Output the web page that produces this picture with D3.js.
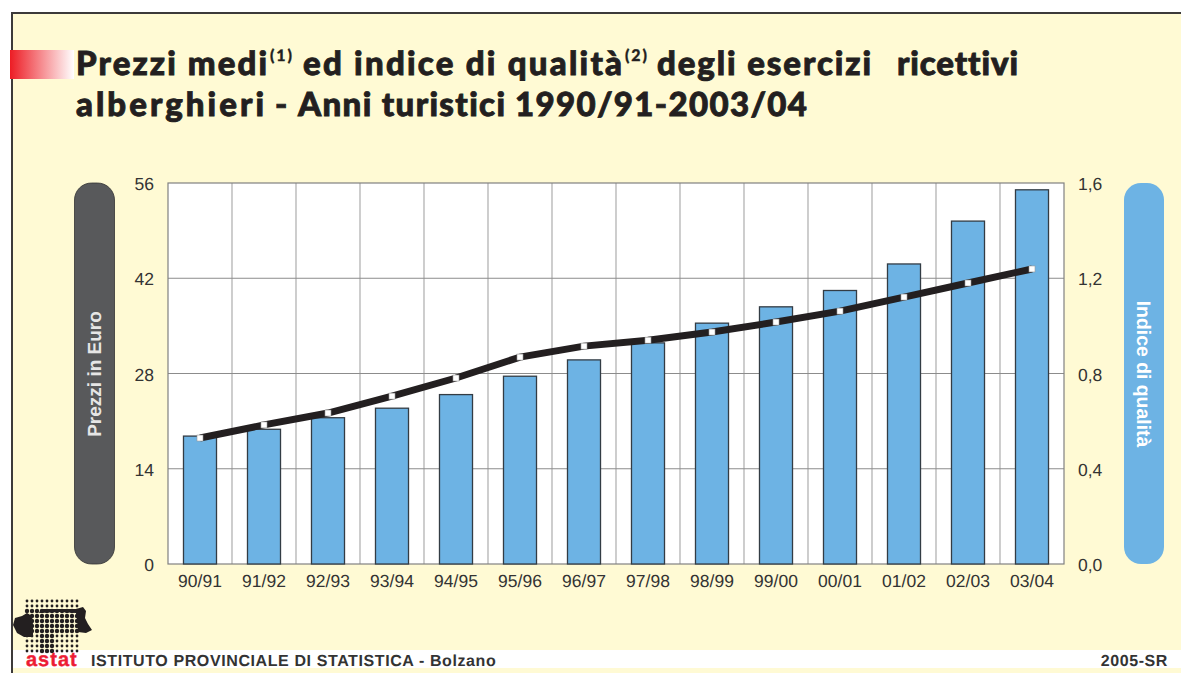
<!DOCTYPE html>
<html>
<head>
<meta charset="utf-8">
<script src="https://cdnjs.cloudflare.com/ajax/libs/d3/7.8.5/d3.min.js"></script>
<style>
  html, body { margin: 0; padding: 0; background: #fff; overflow: hidden; }
  svg { display: block; font-family: "Liberation Sans", Arial, sans-serif; text-rendering: geometricPrecision; }
</style>
</head>
<body>
<script>
const categories = ["90/91","91/92","92/93","93/94","94/95","95/96","96/97","97/98","98/99","99/00","00/01","01/02","02/03","03/04"];
const prezzi = [18.8,19.8,21.5,22.9,24.9,27.6,30.0,32.5,35.4,37.8,40.2,44.1,50.4,55.0];
const indice = [0.529,0.584,0.634,0.705,0.781,0.869,0.915,0.94,0.974,1.016,1.062,1.121,1.18,1.239];
const leftTicks = [0,14,28,42,56];
const rightTicks = [0,0.4,0.8,1.2,1.6];

const width = 1181, height = 673;
const plot = { left: 168, right: 1064, top: 183, bottom: 564 };

const svg = d3.select("body").append("svg")
    .attr("width", width)
    .attr("height", height);

const defs = svg.append("defs");
const grad = defs.append("linearGradient").attr("id", "redFade");
grad.append("stop").attr("offset", "0").attr("stop-color", "#ed1c24");
grad.append("stop").attr("offset", "1").attr("stop-color", "#ffffff");

// Background panel
svg.append("rect")
    .attr("x", 12).attr("y", 13)
    .attr("width", width).attr("height", height)
    .attr("fill", "#fffad4")
    .attr("stroke", "#3c3a3a")
    .attr("stroke-width", 2);

// White footer band
svg.append("rect")
    .attr("x", 13).attr("y", 650)
    .attr("width", width).attr("height", 18)
    .attr("fill", "#fff");

// Title
svg.append("rect")
    .attr("x", 10).attr("y", 50)
    .attr("width", 64).attr("height", 29)
    .attr("fill", "url(#redFade)");

const title = svg.append("g")
    .attr("font-family", "Lato, sans-serif")
    .attr("font-weight", 900)
    .attr("font-size", 33)
    .attr("fill", "#231f20")
    .attr("stroke", "#231f20")
    .attr("stroke-width", 0.9)
    .style("font-variant-ligatures", "none");

// each piece stretched to the span it has in the original
function titlePiece(str, x0, x1, y, size) {
    title.append("text")
        .attr("x", x0).attr("y", y)
        .attr("textLength", x1 - x0).attr("lengthAdjust", "spacing")
        .attr("font-size", size || null)
        .attr("stroke-width", size ? 0.3 : null)
        .text(str);
}
titlePiece("Prezzi medi", 76, 267, 75);
titlePiece("(1)", 270, 292, 61, 16);
titlePiece("ed indice di qualità", 303, 622, 75);
titlePiece("(2)", 625, 647, 61, 16);
titlePiece("degli esercizi", 657, 871, 75);
titlePiece("ricettivi", 897, 1018, 75);
titlePiece("alberghieri", 76, 264, 116);
titlePiece("-", 275, 287, 116);
titlePiece("Anni turistici", 298, 505, 116);
titlePiece("1990/91-2003/04", 515, 807, 116);

// Scales
const x = d3.scaleBand().domain(categories).range([plot.left, plot.right]).paddingInner(0.484).paddingOuter(0.242);
const yLeft = d3.scaleLinear().domain([0, 56]).range([plot.bottom, plot.top]);
const yRight = d3.scaleLinear().domain([0, 1.6]).range([plot.bottom, plot.top]);
const xCenter = d => x(d) + x.bandwidth() / 2;

// Plot background and grid
svg.append("rect")
    .attr("x", plot.left).attr("y", plot.top)
    .attr("width", plot.right - plot.left).attr("height", plot.bottom - plot.top)
    .attr("fill", "#fff");

const grid = svg.append("g");
grid.selectAll("line.v").data(categories.slice(1)).enter().append("line")
    .attr("x1", d => xCenter(d) - x.step() / 2).attr("x2", d => xCenter(d) - x.step() / 2)
    .attr("y1", plot.top).attr("y2", plot.bottom)
    .attr("stroke", "#b3b3b3").attr("stroke-width", 1.3);
grid.selectAll("line.h").data(leftTicks.slice(1, -1)).enter().append("line")
    .attr("x1", plot.left).attr("x2", plot.right)
    .attr("y1", d => yLeft(d)).attr("y2", d => yLeft(d))
    .attr("stroke", "#8c8c8c").attr("stroke-width", 1);

svg.append("rect")
    .attr("x", plot.left).attr("y", plot.top)
    .attr("width", plot.right - plot.left).attr("height", plot.bottom - plot.top)
    .attr("fill", "none")
    .attr("stroke", "#808080")
    .attr("stroke-width", 1.2);

// Bars
svg.selectAll("rect.bar").data(prezzi).enter().append("rect")
    .attr("class", "bar")
    .attr("x", (d, i) => x(categories[i]))
    .attr("y", d => yLeft(d))
    .attr("width", x.bandwidth())
    .attr("height", d => plot.bottom - yLeft(d))
    .attr("fill", "#6db3e4")
    .attr("stroke", "#333c44")
    .attr("stroke-width", 1.3);

// Line
const lineGen = d3.line()
    .x((d, i) => xCenter(categories[i]))
    .y(d => yRight(d));

svg.append("path").datum(indice)
    .attr("d", lineGen)
    .attr("fill", "none")
    .attr("stroke", "#231f20")
    .attr("stroke-width", 7);

svg.selectAll("rect.pt").data(indice).enter().append("rect")
    .attr("class", "pt")
    .attr("x", (d, i) => xCenter(categories[i]) - 3)
    .attr("y", d => yRight(d) - 3)
    .attr("width", 6).attr("height", 6)
    .attr("fill", "#fff")
    .attr("stroke", "#999")
    .attr("stroke-width", 0.6);

// Axes
function cleanAxis(g) {
    g.attr("font-family", null);
    g.select(".domain").remove();
    g.selectAll(".tick line").remove();
    g.selectAll(".tick text").attr("fill", "#333").attr("font-size", 17.5);
}

svg.append("g")
    .attr("transform", `translate(${plot.left - 14},1)`)
    .call(d3.axisLeft(yLeft).tickValues(leftTicks).tickSize(0).tickPadding(0))
    .call(cleanAxis);

svg.append("g")
    .attr("transform", `translate(${plot.right + 14},1)`)
    .call(d3.axisRight(yRight).tickValues(rightTicks).tickSize(0).tickPadding(0)
        .tickFormat(d => d.toFixed(1).replace(".", ",")))
    .call(cleanAxis);

svg.append("g")
    .attr("transform", `translate(0,${plot.bottom + 11})`)
    .call(d3.axisBottom(x).tickSize(0).tickPadding(0))
    .call(cleanAxis);

// Axis title pills
svg.append("rect")
    .attr("x", 74.5).attr("y", 183).attr("width", 40).attr("height", 381)
    .attr("rx", 17).attr("fill", "#58595b").attr("stroke", "#333").attr("stroke-width", 0.8);
svg.append("text")
    .attr("transform", "translate(101,374) rotate(-90)")
    .attr("text-anchor", "middle")
    .attr("font-size", 19).attr("font-weight", "bold")
    .attr("fill", "#e6e6e6")
    .text("Prezzi in Euro");

svg.append("rect")
    .attr("x", 1124).attr("y", 183).attr("width", 40).attr("height", 381)
    .attr("rx", 17).attr("fill", "#6db3e4");
svg.append("text")
    .attr("transform", "translate(1137,374) rotate(90)")
    .attr("text-anchor", "middle")
    .attr("font-size", 19.4).attr("font-weight", "bold")
    .attr("fill", "#fff")
    .text("Indice di qualità");

// Logo: dot screen plus the province silhouette
const logo = svg.append("g").attr("fill", "#231f20");
const dotCols = d3.range(27, 78, 5);
const dotRows = d3.range(601, 652, 5);
dotRows.forEach(r => {
    dotCols.forEach(c => {
        const inBody = r >= 611 && r <= 631;
        const inStem = c >= 42 && c <= 53 && r > 631;
        logo.append("circle").attr("cx", c).attr("cy", r).attr("r", inBody || inStem ? 2.2 : 1.4);
    });
});
// left and right solid ends, top strip
logo.append("path")
    .attr("d", "M13 625 L15 618 L22 616 L27 613 L32 616 L33 625 L33 637 L24 637 L17 633 Z");
logo.append("path")
    .attr("d", "M39 613 L41 609 L60 609 L76 609 L83 607 L86 611 L85 618 L88 624 L92 630 L86 633 L78 632 L77 620 L76 613 L60 612 Z");

svg.append("text")
    .attr("x", 26).attr("y", 666)
    .attr("font-size", 20).attr("font-weight", "bold")
    .attr("letter-spacing", 1)
    .attr("fill", "#ed1c34")
    .attr("stroke", "#ed1c34")
    .attr("stroke-width", 0.4)
    .text("astat");

// Footer
svg.append("text")
    .attr("x", 91).attr("y", 666)
    .attr("font-size", 16).attr("font-weight", "bold")
    .attr("letter-spacing", 0.6)
    .attr("fill", "#333")
    .text("ISTITUTO PROVINCIALE DI STATISTICA - Bolzano");

svg.append("text")
    .attr("x", 1168).attr("y", 666)
    .attr("text-anchor", "end")
    .attr("font-size", 16).attr("font-weight", "bold")
    .attr("letter-spacing", 0.6)
    .attr("fill", "#333")
    .text("2005-SR");
</script>
</body>
</html>
